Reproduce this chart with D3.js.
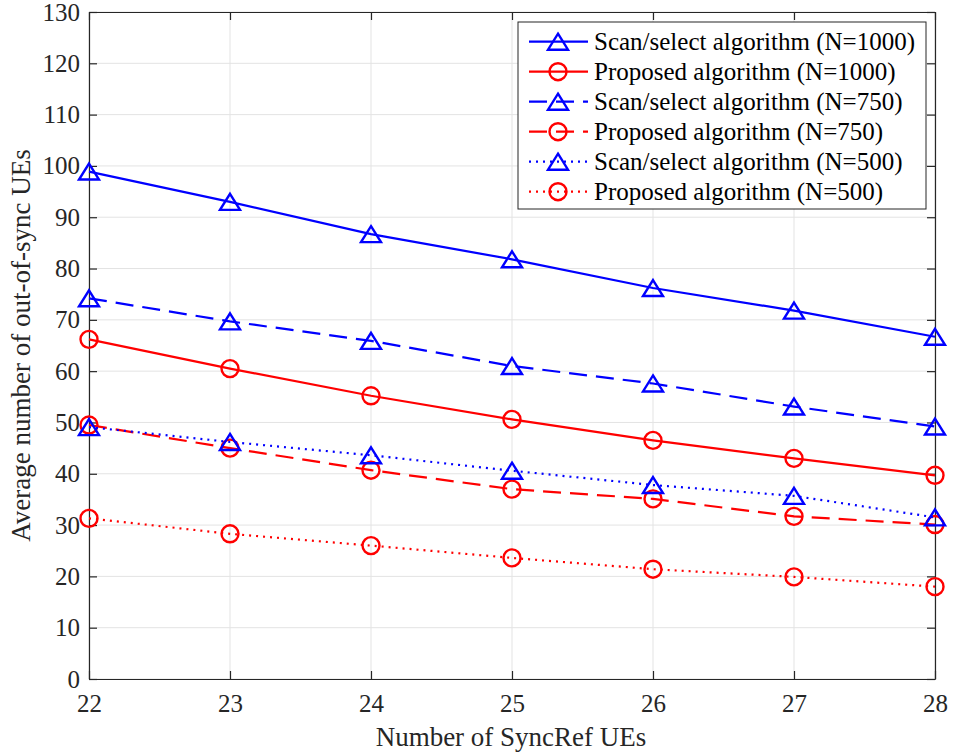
<!DOCTYPE html>
<html>
<head>
<meta charset="utf-8">
<script src="https://cdn.jsdelivr.net/npm/d3@7"></script>
<style>
  html, body { margin: 0; padding: 0; background: #fff; }
  svg { display: block; font-family: "Liberation Serif", "Times New Roman", serif; }
</style>
</head>
<body>
<svg id="chart" width="954" height="756"></svg>
<script>
// Number of SyncRef UEs (x axis)
const syncRefUEs = [22, 23, 24, 25, 26, 27, 28];

// Average number of out-of-sync UEs per scheme
const scanSelect1000 = [98.9, 93.0, 86.7, 81.8, 76.2, 71.8, 66.7];
const proposed1000   = [66.2, 60.5, 55.2, 50.6, 46.5, 43.0, 39.7];
const scanSelect750  = [74.2, 69.7, 65.9, 61.0, 57.6, 53.1, 49.2];
const proposed750    = [49.5, 45.0, 40.7, 37.0, 35.1, 31.7, 30.1];
const scanSelect500  = [49.1, 46.2, 43.6, 40.6, 37.8, 35.7, 31.5];
const proposed500    = [31.3, 28.3, 26.0, 23.6, 21.4, 19.9, 18.0];

const seriesNames = [
  "Scan/select algorithm (N=1000)",
  "Proposed algorithm (N=1000)",
  "Scan/select algorithm (N=750)",
  "Proposed algorithm (N=750)",
  "Scan/select algorithm (N=500)",
  "Proposed algorithm (N=500)"
];

const xTicks = [22, 23, 24, 25, 26, 27, 28];
const yTicks = [0, 10, 20, 30, 40, 50, 60, 70, 80, 90, 100, 110, 120, 130];

const series = [
  { name: seriesNames[0], values: scanSelect1000, color: "#0000ff", dash: null,    marker: "tri" },
  { name: seriesNames[1], values: proposed1000,   color: "#ff0000", dash: null,    marker: "circ" },
  { name: seriesNames[2], values: scanSelect750,  color: "#0000ff", dash: "18,9",  marker: "tri" },
  { name: seriesNames[3], values: proposed750,    color: "#ff0000", dash: "18,9",  marker: "circ" },
  { name: seriesNames[4], values: scanSelect500,  color: "#0000ff", dash: "2,5",   marker: "tri" },
  { name: seriesNames[5], values: proposed500,    color: "#ff0000", dash: "2,5",   marker: "circ" }
];

const svg = d3.select("#chart");
const plotL = 89, plotR = 935, plotT = 12, plotB = 679;

const x = d3.scaleLinear().domain([22, 28]).range([plotL, plotR]);
const y = d3.scaleLinear().domain([0, 130]).range([plotB, plotT]);

const axisColor = "#262626";
const gridColor = "#e3e3e3";
const fontFam = "'Liberation Serif', 'Times New Roman', serif";

// Grid lines
const grid = svg.append("g");
grid.selectAll("line.gx").data(xTicks).join("line")
  .attr("class", "gx")
  .attr("x1", d => x(d)).attr("x2", d => x(d))
  .attr("y1", plotT).attr("y2", plotB)
  .attr("stroke", gridColor).attr("stroke-width", 1);
grid.selectAll("line.gy").data(yTicks).join("line")
  .attr("class", "gy")
  .attr("x1", plotL).attr("x2", plotR)
  .attr("y1", d => y(d)).attr("y2", d => y(d))
  .attr("stroke", gridColor).attr("stroke-width", 1);

// Axes with inward ticks on all four sides
const tickLen = 8;
const axB = svg.append("g").attr("transform", `translate(0,${plotB})`)
  .call(d3.axisBottom(x).tickValues(xTicks).tickFormat(d3.format("d")).tickSizeInner(-tickLen).tickSizeOuter(0).tickPadding(15));
const axT = svg.append("g").attr("transform", `translate(0,${plotT})`)
  .call(d3.axisTop(x).tickValues(xTicks).tickFormat("").tickSizeInner(-tickLen).tickSizeOuter(0));
const axL = svg.append("g").attr("transform", `translate(${plotL},0)`)
  .call(d3.axisLeft(y).tickValues(yTicks).tickFormat(d3.format("d")).tickSizeInner(-tickLen).tickSizeOuter(0).tickPadding(9));
const axR = svg.append("g").attr("transform", `translate(${plotR},0)`)
  .call(d3.axisRight(y).tickValues(yTicks).tickFormat("").tickSizeInner(-tickLen).tickSizeOuter(0));

[axB, axT, axL, axR].forEach(a => {
  a.select(".domain").attr("stroke", axisColor).attr("stroke-width", 1.2);
  a.selectAll(".tick line").attr("stroke", axisColor).attr("stroke-width", 1.2);
  a.selectAll(".tick text").attr("fill", axisColor)
    .style("font-family", fontFam).style("font-size", "25px");
});

// Axis titles
svg.append("text")
  .attr("x", 511).attr("y", 746)
  .attr("text-anchor", "middle").attr("fill", axisColor)
  .style("font-family", fontFam).style("font-size", "27px")
  .text("Number of SyncRef UEs");
svg.append("text")
  .attr("transform", `translate(30,${(plotT + plotB) / 2}) rotate(-90)`)
  .attr("text-anchor", "middle").attr("fill", axisColor)
  .style("font-family", fontFam).style("font-size", "27px")
  .text("Average number of out-of-sync UEs");

// Marker drawing helpers
const triPath = (cx, cy) => {
  const h = 16, w = 20;
  return `M${cx},${cy - h / 2}L${cx + w / 2},${cy + h / 2}L${cx - w / 2},${cy + h / 2}Z`;
};
function drawMarker(g, kind, cx, cy, color) {
  if (kind === "tri") {
    g.append("path").attr("d", triPath(cx, cy))
      .attr("fill", "none").attr("stroke", color).attr("stroke-width", 2.4);
  } else {
    g.append("circle").attr("cx", cx).attr("cy", cy).attr("r", 8.5)
      .attr("fill", "none").attr("stroke", color).attr("stroke-width", 2.4);
  }
}

// Series lines and markers
const line = d3.line().x((d, i) => x(syncRefUEs[i])).y(d => y(d));
const plot = svg.append("g");
series.forEach(s => {
  plot.append("path").datum(s.values)
    .attr("d", line)
    .attr("fill", "none").attr("stroke", s.color).attr("stroke-width", 2.2)
    .attr("stroke-dasharray", s.dash);
  const mg = plot.append("g");
  s.values.forEach((v, i) => drawMarker(mg, s.marker, x(syncRefUEs[i]), y(v), s.color));
});

// Legend
const lg = svg.append("g");
const lgX = 518, lgY = 22, lgW = 408, lgH = 187, rowH = 30;
lg.append("rect").attr("x", lgX).attr("y", lgY).attr("width", lgW).attr("height", lgH)
  .attr("fill", "#fff").attr("stroke", "#262626").attr("stroke-width", 1);
const legendDash = [null, null, "18,9", "18,9", "2,5", "2,5"];
series.forEach((s, i) => {
  const cy = 41.7 + i * rowH;
  lg.append("line").attr("x1", 529).attr("x2", 588).attr("y1", cy).attr("y2", cy)
    .attr("stroke", s.color).attr("stroke-width", 2.2)
    .attr("stroke-dasharray", legendDash[i]);
  drawMarker(lg, s.marker, 558, cy, s.color);
  lg.append("text").attr("x", 594).attr("y", cy).attr("dy", "0.35em")
    .attr("fill", "#000").style("font-family", fontFam).style("font-size", "25px")
    .text(s.name);
});
</script>
</body>
</html>
